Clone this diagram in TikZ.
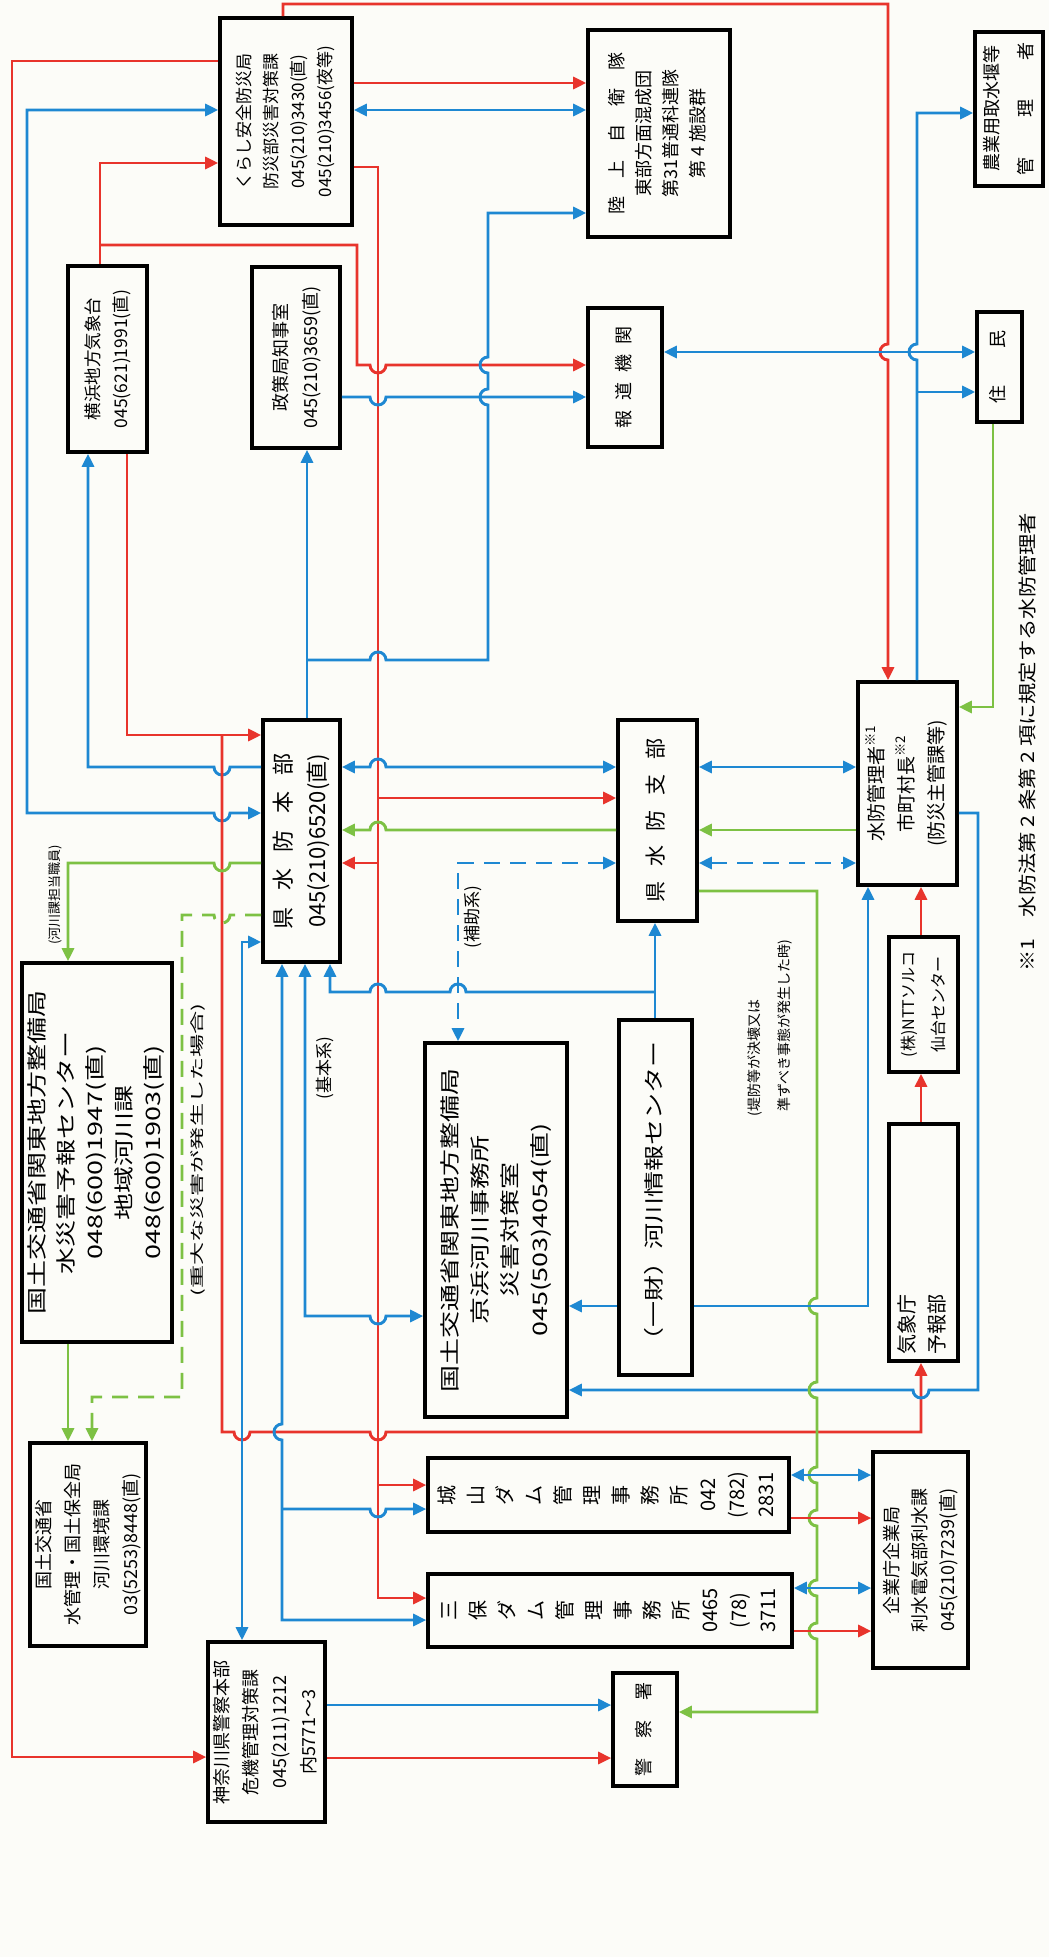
\documentclass[tikz,border=0pt]{standalone}
\usepackage{graphicx}
\usepackage{fontspec}
\setmainfont{Noto Sans CJK JP}
\usetikzlibrary{arrows.meta,fit}
\definecolor{cR}{HTML}{E8342C}
\definecolor{cB}{HTML}{1E88D2}
\definecolor{cG}{HTML}{7DC144}
\definecolor{paper}{HTML}{FCFCF8}
\newcommand\rtx[4]{\rotatebox{90}{\scalebox{#1}[1]{\fontsize{#2}{#3}\selectfont\begin{tabular}{@{}c@{}}#4\end{tabular}}}}
\newcommand\hru[2]{-- (#1-8,#2) arc[start angle=180,end angle=0,radius=4pt]}
\newcommand\hrd[2]{-- (#1-8,#2) arc[start angle=180,end angle=360,radius=4pt]}
\newcommand\hlu[2]{-- (#1+8,#2) arc[start angle=0,end angle=180,radius=4pt]}
\newcommand\hld[2]{-- (#1+8,#2) arc[start angle=0,end angle=-180,radius=4pt]}
\newcommand\vdl[2]{-- (#1,#2-8) arc[start angle=90,end angle=270,radius=4pt]}
\newcommand\vul[2]{-- (#1,#2+8) arc[start angle=270,end angle=90,radius=4pt]}
\tikzset{
  bx/.style={draw=black, line width=1.8pt, fill=paper, inner sep=0pt, rectangle},
  tx/.style={inner sep=0pt, anchor=center},
  ln/.style={line width=1.45pt},
  rl/.style={ln, draw=cR},
  bl/.style={ln, draw=cB},
  gl/.style={ln, draw=cG},
  dsh/.style={dash pattern=on 8pt off 5pt},
  aone/.style={-{Triangle[length=6.5pt,width=6pt]}},
  atwo/.style={{Triangle[length=6.5pt,width=6pt]}-{Triangle[length=6.5pt,width=6pt]}},
  lab/.style={inner sep=0pt, rotate=90},
}
\begin{document}
\begin{tikzpicture}[x=0.5pt,y=-0.5pt]
\useasboundingbox (0,0) rectangle (1049,1957);
\fill[paper] (0,0) rectangle (1049,1957);

% ---------- boxes ----------
\node[bx, fit={(220,18)(352,225)}] (K) {};
\node[tx] (Kt) at (K.center) {\rtx{1}{8.5pt}{13.5pt}{くらし安全防災局\\防災部災害対策課\\045(210)3430(直)\\045(210)3456(夜等)}};
\node[bx, fit={(588,30)(730,237)}] (RK) {};
\node[tx] (RKt) at (RK.center) {\rtx{1}{9pt}{13.5pt}{陸　上　自　衛　隊\\東部方面混成団\\第31普通科連隊\\第 4 施設群}};
\node[bx, fit={(975,32)(1043,186)}] (NG) {};
\node[tx] (NGt) at (NG.center) {\rtx{1}{9pt}{17pt}{農業用取水堰等\\管\hspace{2.2em}理\hspace{2.2em}者}};
\node[bx, fit={(68,266)(147,452)}] (YK) {};
\node[tx] (YKt) at (YK.center) {\rtx{1}{8.75pt}{14pt}{横浜地方気象台\\045(621)1991(直)}};
\node[bx, fit={(252,267)(340,448)}] (SS) {};
\node[tx] (SSt) at (SS.center) {\rtx{1}{9pt}{15pt}{政策局知事室\\045(210)3659(直)}};
\node[bx, fit={(588,308)(662,447)}] (HD) {};
\node[tx] (HDt) at (HD.center) {\rtx{1}{9pt}{13pt}{報\hspace{0.55em}道\hspace{0.55em}機\hspace{0.55em}関}};
\node[bx, fit={(977,312)(1022,422)}] (JM) {};
\node[tx] (JMt) at (JM.center) {\rtx{1}{9pt}{13pt}{住\hspace{2.1em}民}};
\node[bx, fit={(263,720)(340,962)}] (HB) {};
\node[tx] (HBt) at (HB.center) {\rtx{1}{11pt}{17pt}{県\hspace{0.75em}水\hspace{0.75em}防\hspace{0.75em}本\hspace{0.75em}部\\045(210)6520(直)}};
\node[bx, fit={(618,720)(697,921)}] (SB) {};
\node[tx] (SBt) at (SB.center) {\rtx{1}{10.5pt}{15pt}{県\hspace{0.7em}水\hspace{0.7em}防\hspace{0.7em}支\hspace{0.7em}部}};
\node[bx, fit={(858,682)(957,885)}] (SK) {};
\node[tx] (SKt) at (SK.center) {\rtx{1}{9.5pt}{15pt}{水防管理者\textsuperscript{※1}\\市町村長\textsuperscript{※2}\\(防災主管課等)}};
\node[bx, fit={(22,963)(172,1342)}] (YC) {};
\node[tx] (YCt) at (YC.center) {\rtx{1.35}{10pt}{14.5pt}{国土交通省関東地方整備局\\水災害予報センター\\048(600)1947(直)\\地域河川課\\048(600)1903(直)}};
\node[bx, fit={(425,1043)(567,1417)}] (KH) {};
\node[tx] (KHt) at (KH.center) {\rtx{1.35}{10pt}{15pt}{国土交通省関東地方整備局\\京浜河川事務所\\災害対策室\\045(503)4054(直)}};
\node[bx, fit={(619,1020)(692,1375)}] (KJ) {};
\node[tx] (KJt) at (KJ.center) {\rtx{1.3}{10pt}{14pt}{（一財）河川情報センター}};
\node[bx, fit={(889,937)(958,1072)}] (NT) {};
\node[tx] (NTt) at (NT.center) {\rtx{1}{8pt}{15pt}{(株)NTTソルコ\\仙台センター}};
\node[bx, fit={(889,1124)(958,1361)}] (QY) {};
\node[lab, anchor=west] (QYt) at (923,1355) {\fontsize{10pt}{15pt}\selectfont\begin{tabular}{@{}l@{}}気象庁\\予報部\end{tabular}};
\node[bx, fit={(30,1443)(146,1646)}] (MK) {};
\node[tx] (MKt) at (MK.center) {\rtx{1}{9pt}{14.5pt}{国土交通省\\水管理・国土保全局\\河川環境課\\03(5253)8448(直)}};
\node[bx, fit={(428,1458)(789,1532)}] (JY) {};
\node[tx] (JYt) at (JY.center) {\rtx{1}{10pt}{14.5pt}{城\\山\\ダ\\ム\\管\\理\\事\\務\\所\\042\\(782)\\2831}};
\node[bx, fit={(428,1574)(792,1647)}] (MH) {};
\node[tx] (MHt) at (MH.center) {\rtx{1}{10pt}{14.5pt}{三\\保\\ダ\\ム\\管\\理\\事\\務\\所\\0465\\(78)\\3711}};
\node[bx, fit={(873,1452)(968,1668)}] (KG) {};
\node[tx] (KGt) at (KG.center) {\rtx{1}{9pt}{14pt}{企業庁企業局\\利水電気部利水課\\045(210)7239(直)}};
\node[bx, fit={(208,1642)(325,1822)}] (KP) {};
\node[tx] (KPt) at (KP.center) {\rtx{1}{9pt}{14.5pt}{神奈川県警察本部\\危機管理対策課\\045(211)1212\\内5771〜3}};
\node[bx, fit={(613,1673)(677,1786)}] (KS) {};
\node[tx] (KSt) at (KS.center) {\rtx{1}{9pt}{13pt}{警\hspace{1.1em}察\hspace{1.1em}署}};

% ---------- labels ----------
\node[lab] (l1) at (55,895) {\fontsize{6.5pt}{8pt}\selectfont (河川課担当職員)};
\node[lab] (l2) at (198,1150) {\scalebox{1.65}[1]{\fontsize{7pt}{8pt}\selectfont (重大な災害が発生した場合)}};
\node[lab] (l3) at (325,1068) {\fontsize{8.5pt}{10pt}\selectfont (基本系)};
\node[lab] (l4) at (473,917) {\fontsize{8.5pt}{10pt}\selectfont (補助系)};
\node[lab] (l5) at (768,1028) {\fontsize{7pt}{15pt}\selectfont\begin{tabular}{@{}l@{}}(堤防等が決壊又は\\\phantom{(}準ずべき事態が発生した時)\end{tabular}};
\node[lab, anchor=west] (fn) at (1027,972) {\scalebox{1.15}[1]{\fontsize{9.25pt}{10pt}\selectfont ※1　水防法第 2 条第 2 項に規定する水防管理者}};

% ---------- connectors ----------
% kurashi
\draw[rl,aone] (283,0 |- K.north) -- (283,4) -- (888,4) \vdl{888}{352} -- (888,0 |- SK.north);
\draw[rl,aone] (K.west |- 0,61) -- (12,61) -- (12,1757) -- (KP.west |- 0,1757);
\draw[bl,atwo] (K.west |- 0,110) -- (27,110) -- (27,813) \hrd{222}{813} -- (HB.west |- 0,813);
\draw[rl,aone] (K.east |- 0,83) -- (RK.west |- 0,83);
\draw[bl,atwo] (K.east |- 0,110) -- (RK.west |- 0,110);
\draw[rl,aone] (K.east |- 0,167) -- (378,167) -- (378,1598) -- (MH.west |- 0,1598);
\draw[rl,aone] (378,798) -- (SB.west |- 0,798);
\draw[rl,aone] (378,863) -- (HB.east |- 0,863);
\draw[rl,aone] (378,1485) -- (JY.west |- 0,1485);
% yokohama
\draw[bl,aone] (HB.west |- 0,767) \hld{222}{767} -- (88,767) -- (88,0 |- YK.south);
\draw[rl,aone] (100,0 |- YK.north) -- (100,163) -- (K.west |- 0,163);
\draw[rl,aone] (100,245) -- (357,245) -- (357,365) \hrd{378}{365} -- (HD.west |- 0,365);
\draw[rl,aone] (127,0 |- YK.south) -- (127,735) -- (HB.west |- 0,735);
\draw[rl,aone] (222,735) -- (222,1432) \hrd{242}{1432} \hrd{378}{1432} -- (921,1432) -- (921,0 |- QY.south);
% seisaku
\draw[bl,aone] (307,0 |- HB.north) -- (307,0 |- SS.south);
\draw[bl,aone] (307,660) \hru{378}{660} -- (488,660) \vul{488}{397} \vul{488}{365} -- (488,213) -- (RK.west |- 0,213);
\draw[bl,aone] (SS.east |- 0,397) \hrd{378}{397} -- (HD.west |- 0,397);
% houdou / juumin
\draw[bl,atwo] (HD.east |- 0,352) -- (JM.west |- 0,352);
\draw[bl,aone] (917,0 |- SK.north) \vul{917}{352} -- (917,113) -- (NG.west |- 0,113);
\draw[bl,aone] (917,392) -- (JM.west |- 0,392);
\draw[gl,aone] (993,0 |- JM.south) -- (993,707) -- (SK.east |- 0,707);
\draw[bl,aone] (SK.east |- 0,813) -- (978,813) -- (978,1390) \hld{921}{1390} -- (KH.east |- 0,1390);
% honbu - shibu - kanrisha
\draw[bl,atwo] (HB.east |- 0,767) \hru{378}{767} -- (SB.west |- 0,767);
\draw[gl,aone] (SB.west |- 0,830) \hlu{378}{830} -- (HB.east |- 0,830);
\draw[bl,dsh,atwo] (SB.west |- 0,863) -- (458,863) -- (458,0 |- KH.north);
\draw[bl,atwo] (SB.east |- 0,767) -- (SK.west |- 0,767);
\draw[gl,aone] (SK.west |- 0,830) -- (SB.east |- 0,830);
\draw[bl,dsh,atwo] (SB.east |- 0,863) -- (SK.west |- 0,863);
\draw[gl,aone] (SB.east |- 0,891) -- (817,891) \vdl{817}{1306} \vdl{817}{1390} \vdl{817}{1475} \vdl{817}{1518} \vdl{817}{1588} \vdl{817}{1631} -- (817,1712) -- (KS.east |- 0,1712);
% kasen jouhou
\draw[bl,aone] (655,0 |- KJ.north) -- (655,0 |- SB.south);
\draw[bl,aone] (655,992) \hlu{458}{992} \hlu{378}{992} -- (330,992) -- (330,0 |- HB.south);
\draw[bl,aone] (KJ.west |- 0,1306) -- (KH.east |- 0,1306);
\draw[bl,aone] (KJ.east |- 0,1306) -- (868,1306) -- (868,0 |- SK.south);
% kishouchou / NTT
\draw[rl,aone] (921,0 |- QY.north) -- (921,0 |- NT.south);
\draw[rl,aone] (921,0 |- NT.north) -- (921,0 |- SK.south);
% honbu bottom
\draw[bl,atwo] (282,0 |- HB.south) \vdl{282}{1432} -- (282,1620) -- (MH.west |- 0,1620);
\draw[bl,aone] (282,1509) \hrd{378}{1509} -- (JY.west |- 0,1509);
\draw[bl,atwo] (305,0 |- HB.south) -- (305,1316) \hrd{378}{1316} -- (KH.west |- 0,1316);
\draw[bl,atwo] (HB.west |- 0,942) -- (242,942) -- (242,0 |- KP.north);
% kokkosho green
\draw[gl,aone] (HB.west |- 0,863) \hld{222}{863} -- (68,863) -- (68,0 |- YC.north);
\draw[gl,dsh,aone] (HB.west |- 0,915) \hld{222}{915} -- (182,915) -- (182,1397) -- (92,1397) -- (92,0 |- MK.north);
\draw[gl,aone] (68,0 |- YC.south) -- (68,0 |- MK.north);
% dams
\draw[bl,atwo] (JY.east |- 0,1475) -- (KG.west |- 0,1475);
\draw[rl,aone] (JY.east |- 0,1518) -- (KG.west |- 0,1518);
\draw[bl,atwo] (MH.east |- 0,1588) -- (KG.west |- 0,1588);
\draw[rl,aone] (MH.east |- 0,1631) -- (KG.west |- 0,1631);
% police
\draw[bl,aone] (KP.east |- 0,1705) -- (KS.west |- 0,1705);
\draw[rl,aone] (KP.east |- 0,1758) -- (KS.west |- 0,1758);
\end{tikzpicture}
\end{document}
